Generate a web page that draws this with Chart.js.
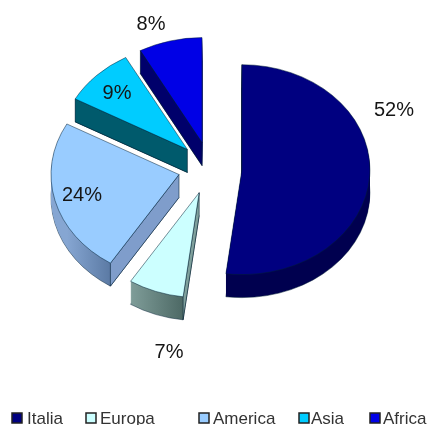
<!DOCTYPE html>
<html>
<head>
<meta charset="utf-8">
<title>Pie</title>
<script src="https://cdn.jsdelivr.net/npm/chart.js@4"></script>
<style>
  html, body { margin: 0; padding: 0; background: #fff; overflow: hidden; }
  canvas { display: block; }
</style>
</head>
<body>
<canvas id="pieChart" width="430" height="425"></canvas>
<script>
const regions = ["Italia", "Europa", "America", "Asia", "Africa"];
const shares = [52, 7, 24, 9, 8];
const faceColors = ["#000080", "#ccffff", "#99ccff", "#00ccff", "#0000e6"];
// rim shading, left and right end of each curved wall
const rimLeft = ["#00004f", "#7f9d99", "#86a6d2", "#005a6c", "#00006b"];
const rimRight = ["#00004f", "#4d6965", "#5b7aa4", "#005a6c", "#00006b"];
const sideColors = ["#00004f", "#7fa09c", "#7f9dcb", "#005a6c", "#00006b"];

// slice label centres, same order as regions
const labelX = [394, 169, 82, 117, 151];
const labelY = [110, 352, 195, 93, 24];
// legend layout: swatch left edge and text left edge
const swatchX = [12, 86, 199, 299, 370];
const legendTextX = [27, 100, 213, 311, 383];

const TILT = 0.82;
const EXPLODE = 32;
const DEPTH = 23;
const OUTLINE = "rgba(0, 30, 50, 0.55)";

// draws the pie tilted and pulled apart, with a solid side wall under each slice
const tiltedPie = {
  id: "tiltedPie",
  beforeDatasetDraw(chart) {
    const ctx = chart.ctx;
    const arcs = chart.getDatasetMeta(0).data;

    function place(arc, drop) {
      const mid = (arc.startAngle + arc.endAngle) / 2;
      ctx.translate(0, arc.y + drop);
      ctx.scale(1, TILT);
      ctx.translate(0, -arc.y);
      ctx.translate(Math.cos(mid) * EXPLODE, Math.sin(mid) * EXPLODE);
    }

    function sector(arc) {
      ctx.beginPath();
      ctx.moveTo(arc.x, arc.y);
      ctx.arc(arc.x, arc.y, arc.outerRadius, arc.startAngle, arc.endAngle);
      ctx.closePath();
    }

    arcs.forEach((arc, i) => {
      const r = arc.outerRadius;
      const a = arc.x + r * Math.cos(arc.startAngle);
      const b = arc.x + r * Math.cos(arc.endAngle);
      const shade = ctx.createLinearGradient(Math.min(a, b), 0, Math.max(a, b), 0);
      shade.addColorStop(0, rimLeft[i]);
      shade.addColorStop(1, rimRight[i]);

      for (let d = DEPTH; d > 0; d--) {
        ctx.save();
        place(arc, d);
        ctx.fillStyle = shade;
        sector(arc);
        ctx.fill();
        if (d === DEPTH) {
          ctx.lineWidth = 1;
          ctx.strokeStyle = OUTLINE;
          ctx.stroke();
        }
        ctx.restore();
      }

      // flat wall along the slice's leading edge
      const mid = (arc.startAngle + arc.endAngle) / 2;
      const apexX = arc.x + Math.cos(mid) * EXPLODE;
      const apexY = arc.y + Math.sin(mid) * EXPLODE * TILT;
      const edgeX = apexX + r * Math.cos(arc.startAngle);
      const edgeY = apexY + r * Math.sin(arc.startAngle) * TILT;
      ctx.save();
      ctx.fillStyle = sideColors[i];
      ctx.strokeStyle = OUTLINE;
      ctx.lineWidth = 1;
      ctx.beginPath();
      ctx.moveTo(apexX, apexY);
      ctx.lineTo(edgeX, edgeY);
      ctx.lineTo(edgeX, edgeY + DEPTH);
      ctx.lineTo(apexX, apexY + DEPTH);
      ctx.closePath();
      ctx.fill();
      ctx.stroke();
      ctx.restore();
    });

    arcs.forEach((arc) => {
      ctx.save();
      place(arc, 0);
      arc.draw(ctx);
      ctx.restore();
    });
    return false;
  },
  afterDraw(chart) {
    const ctx = chart.ctx;
    ctx.save();
    ctx.fillStyle = "#151515";
    ctx.font = '20px "Liberation Sans"';
    ctx.textAlign = "center";
    ctx.textBaseline = "middle";
    shares.forEach((v, i) => {
      ctx.fillText(v + "%", labelX[i], labelY[i]);
    });

    ctx.textAlign = "left";
    ctx.textBaseline = "alphabetic";
    ctx.font = '17px "Liberation Sans"';
    regions.forEach((name, i) => {
      ctx.fillStyle = faceColors[i];
      ctx.strokeStyle = "#222";
      ctx.lineWidth = 1.5;
      ctx.fillRect(swatchX[i], 413, 10, 10);
      ctx.strokeRect(swatchX[i], 413, 10, 10);
      ctx.fillStyle = "#333";
      ctx.fillText(name, legendTextX[i], 424);
    });
    ctx.restore();
  }
};

new Chart(document.getElementById("pieChart"), {
  type: "pie",
  data: {
    labels: regions,
    datasets: [{
      data: shares,
      backgroundColor: faceColors,
      borderColor: OUTLINE,
      borderWidth: 1
    }]
  },
  options: {
    responsive: false,
    animation: false,
    radius: 128,
    layout: { padding: { right: 10, bottom: 89 } },
    plugins: {
      legend: { display: false },
      tooltip: { enabled: false }
    }
  },
  plugins: [tiltedPie]
});
</script>
</body>
</html>
